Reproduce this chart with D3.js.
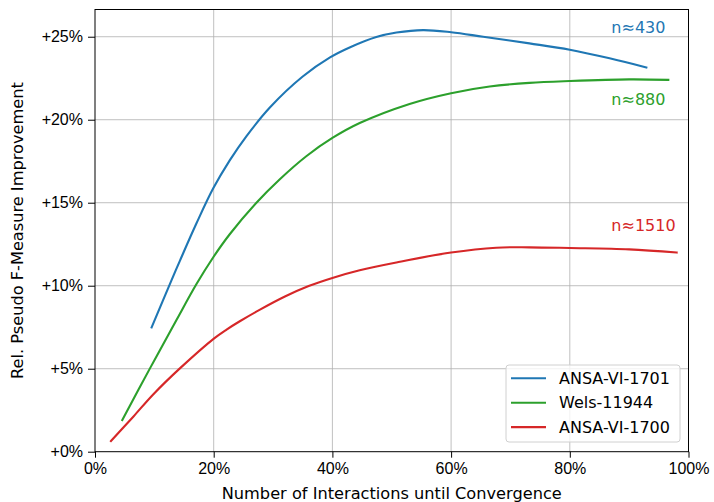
<!DOCTYPE html>
<html>
<head>
<meta charset="utf-8">
<script src="https://cdn.jsdelivr.net/npm/d3@7"></script>
<style>
  body { margin: 0; background: #fff; }
  svg { font-family: "DejaVu Sans", sans-serif; }
  .grid line { stroke: #b0b0b0; stroke-width: 0.8; }
  .axis text { font-size: 16px; fill: #000; }
  .axis path, .axis line { stroke: #000; }
</style>
</head>
<body>
<div id="chart"></div>
<script>
// x = share of interactions until convergence, y = relative improvement in %
const xs1701 = [0.0954, 0.129, 0.143, 0.171, 0.199, 0.227, 0.255, 0.295, 0.35, 0.396, 0.429, 0.474, 0.508, 0.553, 0.60, 0.654, 0.732, 0.80, 0.867, 0.929];
const ys1701 = [7.49, 10.34, 11.5, 13.76, 15.85, 17.55, 19.0, 20.75, 22.6, 23.75, 24.35, 24.98, 25.25, 25.4, 25.27, 25.0, 24.6, 24.22, 23.7, 23.15];

const xsWels = [0.046, 0.0926, 0.1375, 0.171, 0.199, 0.227, 0.272, 0.311, 0.356, 0.40, 0.446, 0.53, 0.60, 0.665, 0.732, 0.80, 0.90, 0.966];
const ysWels = [1.91, 5.02, 7.95, 10.1, 11.7, 13.1, 15.0, 16.4, 17.8, 18.9, 19.8, 20.95, 21.6, 22.0, 22.22, 22.33, 22.43, 22.4];

const xs1700 = [0.0269, 0.0645, 0.098, 0.143, 0.2008, 0.2217, 0.244, 0.278, 0.32, 0.36, 0.40, 0.446, 0.508, 0.60, 0.676, 0.732, 0.80, 0.90, 0.98];
const ys1700 = [0.64, 2.11, 3.45, 5.02, 6.83, 7.36, 7.86, 8.56, 9.35, 9.98, 10.47, 10.93, 11.4, 12.0, 12.29, 12.31, 12.27, 12.19, 12.0];

const seriesNames = ["ANSA-VI-1701", "Wels-11944", "ANSA-VI-1700"];
const seriesColors = ["#1f77b4", "#2ca02c", "#d62728"];
const nLabels = ["n≈430", "n≈880", "n≈1510"];
const nLabelY = [25.55, 21.25, 13.65];

const xTicks = [0, 0.2, 0.4, 0.6, 0.8, 1.0];
const yTicks = [0, 5, 10, 15, 20, 25];

const W = 714, H = 502;
const margin = { left: 95, right: 25.5, top: 9.5, bottom: 50.3 };
const width = W - margin.left - margin.right;
const height = H - margin.top - margin.bottom;

const x = d3.scaleLinear().domain([0, 1]).range([0, width]);
const y = d3.scaleLinear().domain([0, 26.64]).range([height, 0]);

const svg = d3.select("#chart").append("svg")
  .attr("width", W).attr("height", H);

const g = svg.append("g")
  .attr("transform", `translate(${margin.left},${margin.top})`);

// grid
g.append("g").attr("class", "grid")
  .selectAll("line").data(xTicks.slice(1, -1)).join("line")
  .attr("x1", d => x(d)).attr("x2", d => x(d))
  .attr("y1", 0).attr("y2", height);
g.append("g").attr("class", "grid")
  .selectAll("line").data(yTicks.slice(1)).join("line")
  .attr("x1", 0).attr("x2", width)
  .attr("y1", d => y(d)).attr("y2", d => y(d));

// lines
const line = d3.line()
  .x(d => x(d[0])).y(d => y(d[1]))
  .curve(d3.curveCatmullRom.alpha(0.5));

const series = [
  d3.zip(xs1701, ys1701),
  d3.zip(xsWels, ysWels),
  d3.zip(xs1700, ys1700)
];

series.forEach((pts, i) => {
  g.append("path")
    .datum(pts)
    .attr("fill", "none")
    .attr("stroke", seriesColors[i])
    .attr("stroke-width", 2.1)
    .attr("stroke-linecap", "square")
    .attr("d", line);
});

// n labels
nLabels.forEach((t, i) => {
  g.append("text")
    .attr("x", x(0.87))
    .attr("y", y(nLabelY[i]))
    .attr("dy", "0.35em")
    .attr("fill", seriesColors[i])
    .style("font-size", "16px")
    .text(t);
});

// frame
g.append("rect")
  .attr("width", width).attr("height", height)
  .attr("fill", "none").attr("stroke", "#000").attr("stroke-width", 1);

// axes
g.append("g")
  .attr("class", "axis")
  .attr("transform", `translate(0,${height})`)
  .call(d3.axisBottom(x).tickValues(xTicks).tickSize(6).tickPadding(5)
    .tickFormat(d => Math.round(d * 100) + "%"))
  .call(a => a.select(".domain").remove());

g.append("g")
  .attr("class", "axis")
  .call(d3.axisLeft(y).tickValues(yTicks).tickSize(7).tickPadding(5)
    .tickFormat(d => "+" + d + "%"))
  .call(a => a.select(".domain").remove());

// axis labels
svg.append("text")
  .attr("x", margin.left + width / 2)
  .attr("y", 499)
  .attr("text-anchor", "middle")
  .style("font-size", "16.2px")
  .text("Number of Interactions until Convergence");

svg.append("text")
  .attr("transform", "rotate(-90)")
  .attr("x", -(margin.top + height / 2))
  .attr("y", 23)
  .attr("text-anchor", "middle")
  .style("font-size", "16.2px")
  .text("Rel. Pseudo F-Measure Improvement");

// legend
const legend = svg.append("g")
  .attr("transform", `translate(506,365)`);
legend.append("rect")
  .attr("width", 174).attr("height", 77)
  .attr("rx", 3)
  .attr("fill", "#fff").attr("fill-opacity", 0.8)
  .attr("stroke", "#d0d0d0");
seriesNames.forEach((name, i) => {
  const row = legend.append("g").attr("transform", `translate(0,${13.3 + i * 24.4})`);
  row.append("line")
    .attr("x1", 5).attr("x2", 40)
    .attr("stroke", seriesColors[i]).attr("stroke-width", 2.1);
  row.append("text")
    .attr("x", 53).attr("y", 0)
    .attr("dy", "0.35em")
    .style("font-size", "16px")
    .text(name);
});
</script>
</body>
</html>
